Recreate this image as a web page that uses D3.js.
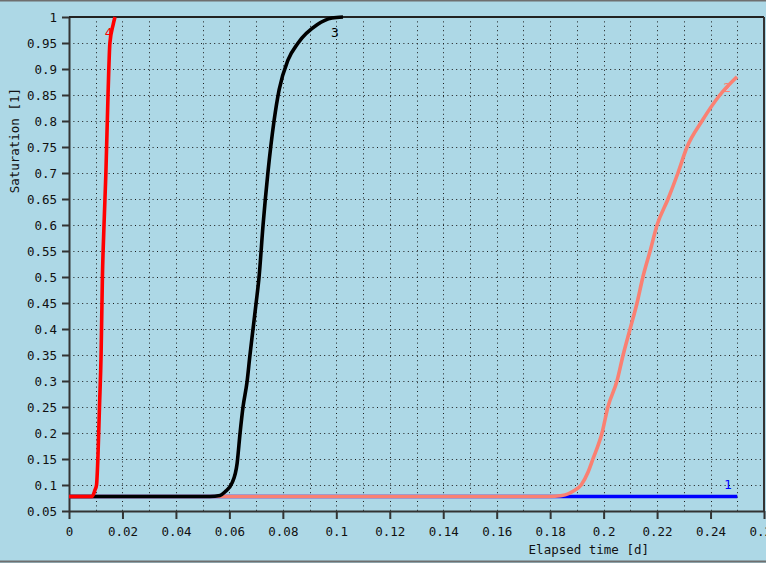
<!DOCTYPE html>
<html>
<head>
<meta charset="utf-8">
<script src="https://cdn.jsdelivr.net/npm/d3@7"></script>
<style>
  html, body { margin: 0; padding: 0; background: #add8e6; }
  svg { display: block; }
  text { font-family: "DejaVu Sans Mono", "Liberation Mono", monospace; }
</style>
</head>
<body>
<script>
// Saturation breakthrough curves, one per observation point
const xTicks = [0, 0.02, 0.04, 0.06, 0.08, 0.1, 0.12, 0.14, 0.16, 0.18, 0.2, 0.22, 0.24, 0.26];
const yTicks = [0.05, 0.1, 0.15, 0.2, 0.25, 0.3, 0.35, 0.4, 0.45, 0.5, 0.55, 0.6, 0.65, 0.7, 0.75, 0.8, 0.85, 0.9, 0.95, 1];
const xTitle = "Elapsed time [d]";
const yTitle = "Saturation [1]";

// series 1 (blue)
const time1 = [0, 0.25];
const sat1  = [0.078, 0.078];

// series 2 (salmon)
const time2 = [0, 0.1773, 0.1818, 0.1856, 0.1886, 0.1916, 0.1942, 0.196, 0.1994, 0.2016, 0.205, 0.2073, 0.2099, 0.2125, 0.2147, 0.2174, 0.22, 0.2241, 0.2278, 0.2312, 0.2368, 0.2435, 0.2499];
const sat2  = [0.078, 0.078, 0.0785, 0.081, 0.088, 0.1, 0.125, 0.15, 0.2, 0.25, 0.3, 0.35, 0.4, 0.45, 0.5, 0.55, 0.6, 0.65, 0.7, 0.75, 0.8, 0.85, 0.885];

// series 3 (black)
const time3 = [0, 0.0527, 0.0565, 0.0584, 0.061, 0.0629, 0.064, 0.0651, 0.0666, 0.0677, 0.0688, 0.07, 0.0711, 0.0726, 0.0744, 0.0767, 0.0786, 0.0819, 0.0857, 0.0928, 0.0984, 0.1025];
const sat3  = [0.078, 0.078, 0.08, 0.087, 0.104, 0.142, 0.2, 0.25, 0.298, 0.35, 0.398, 0.45, 0.5, 0.6, 0.7, 0.8, 0.86, 0.917, 0.95, 0.985, 0.998, 1];

// series 4 (red)
const time4 = [0, 0.0086, 0.0097, 0.0103, 0.0108, 0.0114, 0.012, 0.0125, 0.0131, 0.0138, 0.0146, 0.0153, 0.0165, 0.0172];
const sat4  = [0.078, 0.078, 0.09, 0.1, 0.15, 0.25, 0.35, 0.5, 0.6, 0.7, 0.85, 0.95, 0.985, 1];

const seriesNames  = ["1", "2", "3", "4"];
const seriesColors = ["#0000ff", "#fa8072", "#000000", "#ff0000"];
const seriesTimes  = [time1, time2, time3, time4];
const seriesSats   = [sat1, sat2, sat3, sat4];
// label anchor (time, saturation) for each curve
const labelTime = [0.2465, 0.2462, 0.0995, 0.0148];
const labelSat  = [0.1, 0.863, 0.968, 0.968];

const W = 766, H = 563;
const m = { left: 69, right: 764, top: 17, bottom: 511 };

const svg = d3.select("body").append("svg").attr("width", W).attr("height", H);

svg.append("rect").attr("width", W).attr("height", H).attr("fill", "#add8e6");
// window edges
svg.append("line").attr("x1", 0).attr("x2", W).attr("y1", 0.5).attr("y2", 0.5)
  .attr("stroke", "#6f6f6f").attr("stroke-width", 2);
svg.append("line").attr("x1", 0).attr("x2", W).attr("y1", 561.5).attr("y2", 561.5)
  .attr("stroke", "#6f6f6f").attr("stroke-width", 2);

const x = d3.scaleLinear().domain([0, 0.26]).range([m.left, m.right]);
const y = d3.scaleLinear().domain([0.05, 1]).range([m.bottom, m.top]);

// dotted grid
const grid = svg.append("g").attr("stroke", "#1a1a1a").attr("stroke-width", 1)
  .attr("stroke-dasharray", "1,3.4");
const vGrid = d3.range(1, 26).map(i => i / 100);
grid.selectAll("line.v").data(vGrid).join("line").attr("class", "v")
  .attr("x1", d => Math.round(x(d)) + 0.5).attr("x2", d => Math.round(x(d)) + 0.5)
  .attr("y1", m.top).attr("y2", m.bottom);
grid.selectAll("line.h").data(yTicks.filter(d => d > 0.06 && d < 0.99)).join("line").attr("class", "h")
  .attr("y1", d => Math.round(y(d)) + 0.5).attr("y2", d => Math.round(y(d)) + 0.5)
  .attr("x1", m.left).attr("x2", m.right);

// axes
const fmt = d => String(+d.toFixed(2));
const xAxis = svg.append("g").attr("transform", `translate(0,${m.bottom})`)
  .call(d3.axisBottom(x).tickValues(xTicks).tickFormat(fmt).tickSizeInner(8).tickSizeOuter(0).tickPadding(8));
const yAxis = svg.append("g").attr("transform", `translate(${m.left},0)`)
  .call(d3.axisLeft(y).tickValues(yTicks).tickFormat(fmt).tickSizeInner(7).tickSizeOuter(0).tickPadding(5));
[xAxis, yAxis].forEach(g => {
  g.select(".domain").attr("stroke", "#333").attr("stroke-width", 2);
  g.selectAll(".tick line").attr("stroke", "#333").attr("stroke-width", 2);
  g.selectAll(".tick text").attr("fill", "#111").style("font-size", "12.5px")
    .style("font-family", "'DejaVu Sans Mono', monospace");
});
// frame top and right
svg.append("line").attr("x1", m.left).attr("x2", m.right).attr("y1", m.top).attr("y2", m.top)
  .attr("stroke", "#222").attr("stroke-width", 2);
svg.append("line").attr("x1", m.right).attr("x2", m.right).attr("y1", m.top).attr("y2", m.bottom)
  .attr("stroke", "#333").attr("stroke-width", 2);

// titles
svg.append("text").attr("x", 649).attr("y", 554).attr("text-anchor", "end")
  .style("font-size", "12.5px").attr("fill", "#111").text(xTitle);
svg.append("text").attr("transform", "translate(19,88) rotate(-90)").attr("text-anchor", "end")
  .style("font-size", "12.5px").attr("fill", "#111").text(yTitle);

// curve labels (the curves are drawn over them)
seriesNames.forEach((name, i) => {
  svg.append("text").attr("x", x(labelTime[i])).attr("y", y(labelSat[i]))
    .attr("text-anchor", "middle").attr("dominant-baseline", "middle")
    .style("font-size", "13px").attr("fill", seriesColors[i]).text(name);
});

// curves, drawn in series order so later ones lie on top
const line = d3.line().x(d => x(d[0])).y(d => y(d[1])).curve(d3.curveMonotoneX);
seriesNames.forEach((name, i) => {
  const pts = seriesTimes[i].map((t, k) => [t, seriesSats[i][k]]);
  svg.append("path").datum(pts).attr("d", line)
    .attr("fill", "none").attr("stroke", seriesColors[i])
    .attr("stroke-width", 3.6).attr("stroke-linejoin", "round");
});
</script>
</body>
</html>
